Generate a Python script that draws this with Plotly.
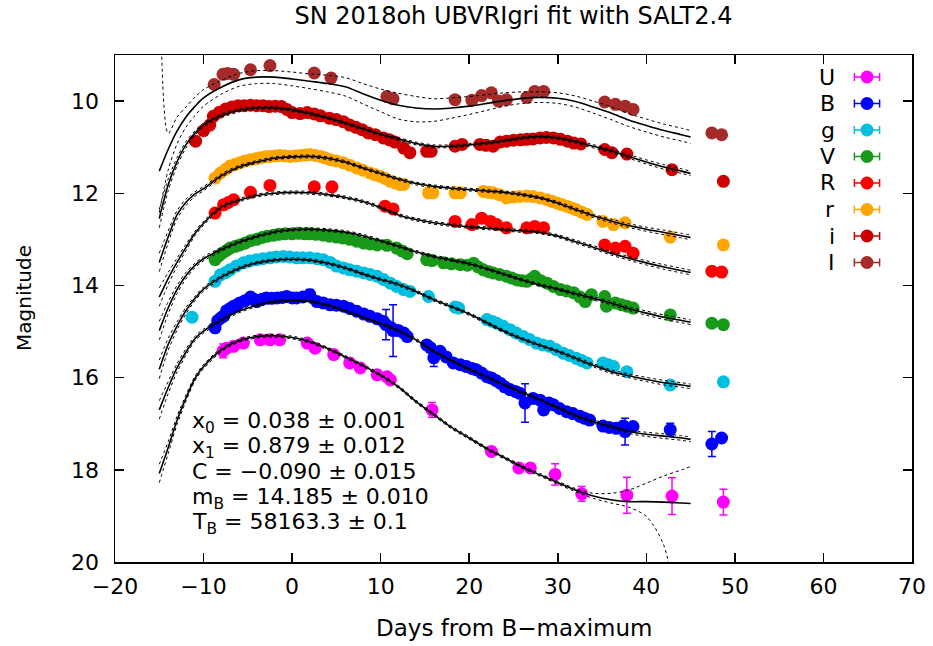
import plotly.graph_objects as go

# ---------------- data ----------------
bands = ["U", "B", "g", "V", "R", "r", "i", "I"]
band_colors = ["#FF00FF", "#0000FF", "#00BFE0", "#18991A", "#FF0000", "#FFA500", "#CC0000", "#A52A2A"]

# observations (days from B max, magnitude, error)
U_days = [-7.8, -7.4, -6.6, -5.5, -3.6, -2.5, -1.4, 1.7, 2.6, 4.7, 6.5, 7.7, 9.6, 10.7, 11.1, 15.8, 22.5, 25.6, 26.9, 29.7, 32.7, 37.8, 42.9, 48.7]
U_mag = [15.42, 15.36, 15.32, 15.25, 15.18, 15.18, 15.18, 15.25, 15.36, 15.50, 15.68, 15.79, 15.94, 15.98, 16.05, 16.70, 17.60, 17.96, 17.96, 18.10, 18.52, 18.55, 18.57, 18.70]
U_err = [0.15, 0.05, 0.05, 0.05, 0.05, 0.05, 0.05, 0.05, 0.05, 0.05, 0.05, 0.05, 0.05, 0.05, 0.05, 0.16, 0.08, 0.08, 0.08, 0.23, 0.16, 0.39, 0.40, 0.28]

B_days = [-8.7, -8.4, -8.0, -7.7, -7.4, -7.0, -6.6, -6.2, -5.9, -5.3, -4.7, -4.3, -4.0, -3.4, -2.9, -2.3, -1.7, -1.1, -0.6, 0.0, 0.5, 1.2, 2.0, 2.8, 3.5, 4.3, 5.0, 5.8, 6.5, 7.3, 8.1, 8.8, 9.6, 10.3, 10.6, 11.2, 11.4, 12.0, 12.6, 13.0, 15.2, 15.6, 16.0, 16.7, 17.4, 18.2, 19.0, 19.7, 20.3, 20.8, 21.4, 22.0, 22.5, 23.0, 23.5, 24.0, 24.6, 25.2, 25.7, 26.3, 27.2, 28.0, 28.4, 29.0, 29.5, 30.2, 31.0, 31.7, 32.5, 33.0, 33.6, 35.1, 35.8, 36.6, 37.4, 37.6, 38.5, 42.7, 47.4, 48.5]
B_mag = [14.92, 14.76, 14.70, 14.66, 14.55, 14.50, 14.45, 14.42, 14.38, 14.33, 14.25, 14.30, 14.35, 14.30, 14.27, 14.28, 14.27, 14.26, 14.24, 14.27, 14.27, 14.25, 14.20, 14.35, 14.38, 14.42, 14.43, 14.45, 14.50, 14.56, 14.62, 14.67, 14.72, 14.78, 14.85, 14.92, 14.98, 14.98, 15.03, 15.11, 15.29, 15.35, 15.57, 15.43, 15.55, 15.68, 15.72, 15.76, 15.80, 15.83, 15.90, 15.98, 16.01, 16.06, 16.12, 16.20, 16.26, 16.30, 16.34, 16.55, 16.45, 16.49, 16.70, 16.55, 16.59, 16.67, 16.74, 16.78, 16.84, 16.88, 16.92, 17.05, 17.08, 17.10, 17.05, 17.17, 17.06, 17.13, 17.44, 17.31]
B_err = [0.03, 0.03, 0.03, 0.03, 0.03, 0.03, 0.03, 0.03, 0.03, 0.03, 0.03, 0.03, 0.03, 0.03, 0.03, 0.03, 0.03, 0.03, 0.03, 0.03, 0.03, 0.03, 0.11, 0.03, 0.03, 0.03, 0.03, 0.03, 0.03, 0.03, 0.03, 0.03, 0.03, 0.03, 0.33, 0.03, 0.56, 0.03, 0.03, 0.03, 0.03, 0.03, 0.19, 0.03, 0.03, 0.03, 0.03, 0.03, 0.03, 0.03, 0.03, 0.03, 0.10, 0.03, 0.03, 0.03, 0.03, 0.03, 0.03, 0.42, 0.03, 0.03, 0.10, 0.03, 0.03, 0.03, 0.03, 0.03, 0.03, 0.03, 0.03, 0.03, 0.03, 0.03, 0.10, 0.29, 0.03, 0.14, 0.27, 0.03]

g_days = [-11.3, -8.7, -8.1, -7.5, -7.0, -6.3, -5.5, -4.8, -4.0, -3.3, -2.5, -1.8, -1.0, -0.3, 0.5, 1.2, 2.0, 2.8, 3.5, 4.3, 5.0, 5.8, 6.5, 7.3, 8.1, 8.8, 9.6, 10.3, 11.1, 11.8, 12.6, 13.3, 15.4, 18.4, 18.8, 22.0, 22.6, 23.1, 23.8, 24.6, 25.3, 26.1, 26.8, 27.6, 28.3, 29.1, 29.8, 30.6, 31.3, 32.1, 32.7, 33.3, 35.1, 35.7, 36.3, 37.8, 42.7, 48.7]
g_mag = [14.69, 13.91, 13.77, 13.72, 13.66, 13.58, 13.51, 13.47, 13.44, 13.42, 13.40, 13.38, 13.37, 13.38, 13.40, 13.40, 13.40, 13.42, 13.44, 13.50, 13.58, 13.62, 13.66, 13.69, 13.73, 13.76, 13.80, 13.87, 13.95, 14.02, 14.09, 14.13, 14.24, 14.47, 14.49, 14.74, 14.78, 14.82, 14.88, 14.96, 15.03, 15.11, 15.17, 15.25, 15.29, 15.32, 15.39, 15.47, 15.52, 15.58, 15.63, 15.68, 15.68, 15.72, 15.76, 15.87, 16.16, 16.09]

V_days = [-8.7, -8.3, -7.9, -7.4, -7.0, -6.4, -5.9, -5.3, -4.7, -4.0, -3.4, -2.8, -2.1, -1.5, -0.8, 0.0, 0.7, 1.4, 2.0, 2.7, 3.5, 4.2, 5.0, 5.7, 6.5, 7.3, 8.1, 8.8, 9.6, 10.7, 11.8, 12.4, 13.0, 15.2, 15.8, 17.1, 18.0, 19.0, 19.8, 20.5, 21.0, 21.6, 22.2, 22.7, 23.4, 24.2, 24.8, 25.4, 26.0, 26.5, 27.0, 27.4, 28.1, 28.8, 29.5, 30.3, 31.0, 31.8, 32.5, 33.1, 33.8, 35.3, 35.5, 36.5, 37.2, 37.8, 38.5, 42.7, 47.4, 48.7]
V_mag = [13.44, 13.36, 13.30, 13.24, 13.19, 13.15, 13.12, 13.08, 13.03, 13.00, 12.96, 12.93, 12.91, 12.89, 12.88, 12.88, 12.87, 12.88, 12.88, 12.89, 12.91, 12.93, 12.95, 12.97, 13.00, 13.04, 13.08, 13.10, 13.12, 13.13, 13.19, 13.25, 13.31, 13.44, 13.46, 13.51, 13.53, 13.55, 13.56, 13.52, 13.60, 13.66, 13.70, 13.73, 13.76, 13.80, 13.84, 13.88, 13.90, 13.91, 13.86, 13.80, 13.90, 13.95, 14.02, 14.09, 14.12, 14.16, 14.25, 14.35, 14.20, 14.24, 14.45, 14.38, 14.42, 14.45, 14.49, 14.64, 14.82, 14.85]

R_days = [-8.7, -7.75, -7.2, -6.6, -4.7, -2.5, 2.5, 4.5, 10.5, 11.4, 18.4, 20.3, 21.4, 22.4, 23.1, 24.2, 26.5, 27.4, 28.4, 35.3, 36.5, 37.6, 38.5, 47.4, 48.5]
R_mag = [12.43, 12.25, 12.20, 12.14, 11.98, 11.83, 11.86, 11.86, 12.28, 12.34, 12.61, 12.68, 12.54, 12.61, 12.68, 12.75, 12.75, 12.72, 12.75, 13.12, 13.19, 13.15, 13.30, 13.69, 13.71]

r_days = [-8.7, -8.1, -7.5, -7.0, -6.4, -5.9, -5.3, -4.7, -4.1, -3.6, -3.0, -2.5, -1.9, -1.4, -0.8, -0.2, 0.4, 0.9, 1.5, 2.0, 2.6, 3.2, 3.7, 4.3, 5.0, 5.8, 6.5, 7.3, 8.0, 8.8, 9.4, 9.9, 10.5, 11.1, 11.7, 12.2, 12.6, 15.4, 15.9, 18.4, 19.0, 21.6, 22.2, 22.7, 23.4, 24.2, 25.0, 25.7, 26.5, 27.2, 28.0, 28.8, 29.4, 29.9, 30.5, 31.0, 31.6, 32.1, 32.7, 33.3, 35.1, 36.3, 37.6, 42.7, 48.7]
r_mag = [11.67, 11.56, 11.48, 11.41, 11.37, 11.34, 11.30, 11.27, 11.25, 11.23, 11.21, 11.20, 11.19, 11.18, 11.19, 11.20, 11.19, 11.18, 11.17, 11.16, 11.18, 11.20, 11.23, 11.27, 11.30, 11.34, 11.39, 11.45, 11.50, 11.56, 11.60, 11.63, 11.68, 11.74, 11.78, 11.81, 11.81, 11.99, 11.99, 11.99, 11.99, 11.96, 11.98, 11.99, 12.03, 12.10, 12.08, 12.07, 12.06, 12.07, 12.10, 12.14, 12.18, 12.21, 12.25, 12.28, 12.32, 12.36, 12.41, 12.46, 12.61, 12.68, 12.64, 12.95, 13.12]

i_days = [-10.9, -10.0, -9.3, -8.9, -8.2, -7.5, -6.8, -6.1, -5.4, -4.7, -4.0, -3.3, -2.6, -1.9, -1.2, -0.6, 0.0, 0.9, 1.7, 2.5, 3.2, 4.2, 5.0, 5.8, 6.5, 7.2, 7.9, 8.6, 9.4, 10.3, 11.0, 11.6, 12.6, 13.3, 15.2, 15.7, 18.4, 19.2, 21.2, 21.9, 22.7, 23.5, 24.2, 25.0, 25.8, 26.5, 27.2, 28.0, 28.7, 29.5, 30.3, 31.1, 31.8, 32.6, 35.3, 36.1, 37.8, 42.9, 48.7]
i_mag = [10.87, 10.64, 10.52, 10.33, 10.24, 10.17, 10.13, 10.10, 10.10, 10.09, 10.10, 10.10, 10.12, 10.11, 10.12, 10.18, 10.25, 10.27, 10.25, 10.28, 10.32, 10.37, 10.40, 10.45, 10.52, 10.57, 10.62, 10.69, 10.73, 10.80, 10.84, 10.89, 11.02, 11.12, 11.09, 11.09, 10.98, 10.94, 10.94, 10.96, 10.98, 10.89, 10.87, 10.85, 10.84, 10.83, 10.82, 10.80, 10.79, 10.80, 10.83, 10.87, 10.91, 10.93, 11.05, 11.12, 11.15, 11.49, 11.74]

I_days = [-8.8, -7.8, -7.3, -6.6, -4.7, -2.5, 2.5, 4.4, 10.7, 11.4, 18.4, 20.3, 21.4, 22.5, 23.3, 24.2, 26.5, 27.4, 28.4, 35.3, 36.5, 37.6, 38.5, 47.4, 48.5]
I_mag = [9.64, 9.42, 9.40, 9.42, 9.32, 9.23, 9.39, 9.50, 9.90, 9.95, 9.97, 9.98, 9.88, 9.82, 10.00, 9.97, 9.92, 9.79, 9.79, 10.02, 10.07, 10.11, 10.18, 10.69, 10.73]

# SALT2.4 model curves sampled on a day grid
model_days = [-15, -14, -13, -12, -11, -10, -8, -6, -4, -2, 0, 2, 4, 6, 8, 10, 12, 14, 16, 18, 20, 22, 24, 26, 28, 30, 32, 34, 36, 38, 40, 42, 44, 45]
model_U = [18.08, 17.52, 16.93, 16.45, 16.03, 15.76, 15.40, 15.20, 15.11, 15.09, 15.13, 15.22, 15.37, 15.55, 15.74, 15.95, 16.20, 16.52, 16.80, 17.08, 17.31, 17.54, 17.74, 17.94, 18.11, 18.28, 18.44, 18.57, 18.65, 18.69, 18.69, 18.70, 18.72, 18.73]
model_B = [16.70, 16.22, 15.79, 15.45, 15.16, 14.99, 14.75, 14.56, 14.43, 14.35, 14.33, 14.35, 14.43, 14.55, 14.69, 14.83, 14.98, 15.18, 15.43, 15.63, 15.82, 15.99, 16.16, 16.32, 16.48, 16.65, 16.82, 16.95, 17.06, 17.17, 17.23, 17.27, 17.31, 17.34]
model_g = [15.82, 15.28, 14.88, 14.55, 14.29, 14.08, 13.82, 13.63, 13.51, 13.45, 13.43, 13.45, 13.52, 13.62, 13.75, 13.87, 13.98, 14.13, 14.31, 14.46, 14.62, 14.81, 15.00, 15.16, 15.30, 15.43, 15.58, 15.73, 15.87, 15.96, 16.04, 16.11, 16.16, 16.19]
model_V = [14.98, 14.49, 14.09, 13.79, 13.57, 13.42, 13.22, 13.06, 12.94, 12.84, 12.79, 12.78, 12.80, 12.84, 12.92, 13.03, 13.15, 13.27, 13.37, 13.45, 13.53, 13.64, 13.76, 13.88, 13.99, 14.08, 14.18, 14.28, 14.38, 14.50, 14.60, 14.69, 14.76, 14.80]
model_R = [14.25, 13.85, 13.50, 13.18, 12.88, 12.65, 12.30, 12.15, 12.05, 12.00, 11.98, 11.99, 12.03, 12.09, 12.18, 12.31, 12.47, 12.57, 12.64, 12.69, 12.73, 12.76, 12.79, 12.82, 12.85, 12.93, 13.05, 13.17, 13.30, 13.41, 13.51, 13.60, 13.68, 13.72]
model_r = [13.50, 12.95, 12.47, 12.20, 12.02, 11.90, 11.62, 11.43, 11.32, 11.24, 11.21, 11.20, 11.24, 11.32, 11.45, 11.57, 11.69, 11.79, 11.85, 11.89, 11.92, 11.95, 11.98, 12.03, 12.10, 12.21, 12.35, 12.49, 12.60, 12.70, 12.78, 12.85, 12.92, 12.96]
model_i = [12.55, 11.82, 11.32, 10.95, 10.70, 10.52, 10.32, 10.20, 10.15, 10.15, 10.19, 10.27, 10.36, 10.48, 10.60, 10.72, 10.82, 10.92, 10.98, 10.98, 10.95, 10.91, 10.86, 10.80, 10.77, 10.80, 10.88, 10.98, 11.08, 11.20, 11.32, 11.43, 11.52, 11.57]
model_I = [11.52, 11.05, 10.65, 10.35, 10.12, 9.93, 9.70, 9.54, 9.48, 9.48, 9.52, 9.57, 9.62, 9.69, 9.84, 9.98, 10.09, 10.15, 10.17, 10.15, 10.11, 10.05, 9.99, 9.94, 9.92, 9.94, 10.01, 10.13, 10.26, 10.41, 10.53, 10.64, 10.73, 10.78]

# model uncertainty envelopes (bright side / faint side)
sig_tight = [0.20, 0.13, 0.09, 0.07, 0.05, 0.045, 0.04, 0.035, 0.03, 0.03, 0.03, 0.03, 0.03, 0.03, 0.03, 0.03, 0.03, 0.03, 0.03, 0.03, 0.03, 0.03, 0.03, 0.03, 0.03, 0.03, 0.035, 0.035, 0.04, 0.04, 0.045, 0.05, 0.05, 0.05]
sig_U_bright = [0.20, 0.13, 0.09, 0.07, 0.05, 0.045, 0.04, 0.035, 0.03, 0.03, 0.03, 0.03, 0.03, 0.03, 0.03, 0.03, 0.03, 0.03, 0.03, 0.03, 0.03, 0.03, 0.03, 0.03, 0.03, 0.03, 0.035, 0.06, 0.14, 0.25, 0.40, 0.57, 0.72, 0.80]
sig_U_faint = [0.20, 0.13, 0.09, 0.07, 0.05, 0.045, 0.04, 0.035, 0.03, 0.03, 0.03, 0.03, 0.03, 0.03, 0.03, 0.03, 0.03, 0.03, 0.03, 0.03, 0.03, 0.03, 0.03, 0.03, 0.03, 0.03, 0.035, 0.05, 0.07, 0.12, 0.32, 0.95, 3.0, 4.0]
sig_I_bright = [6.0, 0.35, 0.30, 0.22, 0.20, 0.18, 0.15, 0.14, 0.14, 0.14, 0.15, 0.16, 0.18, 0.20, 0.22, 0.24, 0.26, 0.25, 0.22, 0.22, 0.21, 0.19, 0.17, 0.14, 0.12, 0.12, 0.12, 0.13, 0.14, 0.14, 0.14, 0.14, 0.14, 0.14]
sig_I_faint = [0.9, 0.45, 0.28, 0.22, 0.20, 0.18, 0.15, 0.14, 0.14, 0.14, 0.15, 0.16, 0.18, 0.20, 0.22, 0.25, 0.30, 0.30, 0.27, 0.22, 0.18, 0.15, 0.12, 0.11, 0.11, 0.11, 0.12, 0.13, 0.14, 0.14, 0.14, 0.14, 0.14, 0.14]

fit_lines = [
    "x<sub>0</sub> = 0.038 ± 0.001",
    "x<sub>1</sub> = 0.879 ± 0.012",
    "C = −0.090 ± 0.015",
    "m<sub>B</sub> = 14.185 ± 0.010",
    "T<sub>B</sub> = 58163.3 ± 0.1",
]

obs = {
    "U": (U_days, U_mag, U_err), "B": (B_days, B_mag, B_err),
    "g": (g_days, g_mag, None), "V": (V_days, V_mag, None),
    "R": (R_days, R_mag, None), "r": (r_days, r_mag, None),
    "i": (i_days, i_mag, None), "I": (I_days, I_mag, None),
}
models = {"U": model_U, "B": model_B, "g": model_g, "V": model_V,
          "R": model_R, "r": model_r, "i": model_i, "I": model_I}
envelopes = {"U": (sig_U_bright, sig_U_faint), "I": (sig_I_bright, sig_I_faint)}

FONT = "DejaVu Sans"
fig = go.Figure()

# observed points
for b, col in zip(bands, band_colors):
    d, m, e = obs[b]
    kw = {}
    if e is not None:
        kw["error_y"] = dict(type="data", array=e, color=col, thickness=1.5, width=4)
    fig.add_trace(go.Scatter(x=d, y=m, mode="markers", showlegend=False, hoverinfo="skip",
                             marker=dict(color=col, size=13, line=dict(width=0)), **kw))

# model curves
for b in bands:
    mod = models[b]
    sb, sf = envelopes.get(b, (sig_tight, sig_tight))
    upper = [v - s for v, s in zip(mod, sb)]
    lower = [v + s for v, s in zip(mod, sf)]
    for curve in (upper, lower):
        fig.add_trace(go.Scatter(x=model_days, y=curve, mode="lines", showlegend=False, hoverinfo="skip",
                                 line=dict(color="black", width=1, dash="dot", shape="spline", smoothing=0.8)))
    fig.add_trace(go.Scatter(x=model_days, y=mod, mode="lines", showlegend=False, hoverinfo="skip",
                             line=dict(color="black", width=1.6, shape="spline", smoothing=0.8)))

# page geometry (body margin is removed in the page, so figure = full window)
W, H = 933, 646
PL, PR, PT, PB = 115, 912, 55, 562          # plot frame in page pixels
L, T, R, Bm = PL, PT, W - PR, H - PB
pw, ph = PR - PL, PB - PT
def px(xp):
    return (xp - PL) / pw
def py(yp):
    return (PB - yp) / ph

# custom legend (gnuplot style: label, then point with horizontal error bar)
LEG_TOP, LEG_STEP = 77, 26.5
for k, (b, col) in enumerate(zip(bands, band_colors)):
    fig.add_trace(go.Scatter(x=[0], y=[k], xaxis="x2", yaxis="y2", mode="markers", showlegend=False,
                             hoverinfo="skip",
                             marker=dict(color=col, size=13, line=dict(width=0)),
                             error_x=dict(type="data", array=[0.42], color=col, thickness=1.5, width=4)))
    fig.add_annotation(x=px(837), y=py(LEG_TOP + k * LEG_STEP), xref="paper", yref="paper",
                       text=b, showarrow=False, xanchor="right", yanchor="middle",
                       font=dict(family=FONT, size=22, color="black"))

text_tops = [406, 431, 457, 482, 507]
for txt, yt in zip(fit_lines, text_tops):
    fig.add_annotation(x=px(190), y=py(yt), xref="paper", yref="paper", text=txt,
                       showarrow=False, xanchor="left", yanchor="top",
                       font=dict(family=FONT, size=22, color="black"))

# axis titles
fig.add_annotation(x=0.5, y=py(628), xref="paper", yref="paper", text="Days from B−maximum",
                   showarrow=False, xanchor="center", yanchor="middle",
                   font=dict(family=FONT, size=23, color="black"))
fig.add_annotation(x=px(24), y=py(298), xref="paper", yref="paper", text="Magnitude",
                   showarrow=False, xanchor="center", yanchor="middle", textangle=-90,
                   font=dict(family=FONT, size=20, color="black"))

axis_common = dict(showline=True, linecolor="black", linewidth=1.5, mirror="ticks",
                   ticks="inside", ticklen=9, tickwidth=1.5, tickcolor="black",
                   showgrid=False, zeroline=False, automargin=False,
                   tickfont=dict(family=FONT, size=22, color="black"))

fig.update_layout(
    template="none",
    width=W, height=H,
    margin=dict(l=L, r=R, t=T, b=Bm, autoexpand=False),
    paper_bgcolor="white", plot_bgcolor="white",
    showlegend=False,
    hovermode=False,
    title=dict(text="SN 2018oh UBVRIgri fit with SALT2.4", x=0.5, xref="paper",
               y=1 - 16 / H, yref="container", xanchor="center", yanchor="middle",
               font=dict(family=FONT, size=24, color="black")),
    xaxis=dict(range=[-20, 70], tickvals=[-20, -10, 0, 10, 20, 30, 40, 50, 60, 70],
               ticklabelstandoff=4, **axis_common),
    yaxis=dict(range=[20, 9], tickvals=[10, 12, 14, 16, 18, 20],
               ticksuffix="\u2009", ticklabelstandoff=10, **axis_common),
    xaxis2=dict(domain=[px(837), px(897)], range=[-1, 1], visible=False, anchor="y2"),
    yaxis2=dict(domain=[py(LEG_TOP - LEG_STEP / 2) - 8 * LEG_STEP / ph, py(LEG_TOP - LEG_STEP / 2)],
                range=[7.5, -0.5], visible=False, anchor="x2"),
)

fig.write_html("out.html", config={"displayModeBar": False, "staticPlot": True},
               post_script="document.body.style.margin='0';")
